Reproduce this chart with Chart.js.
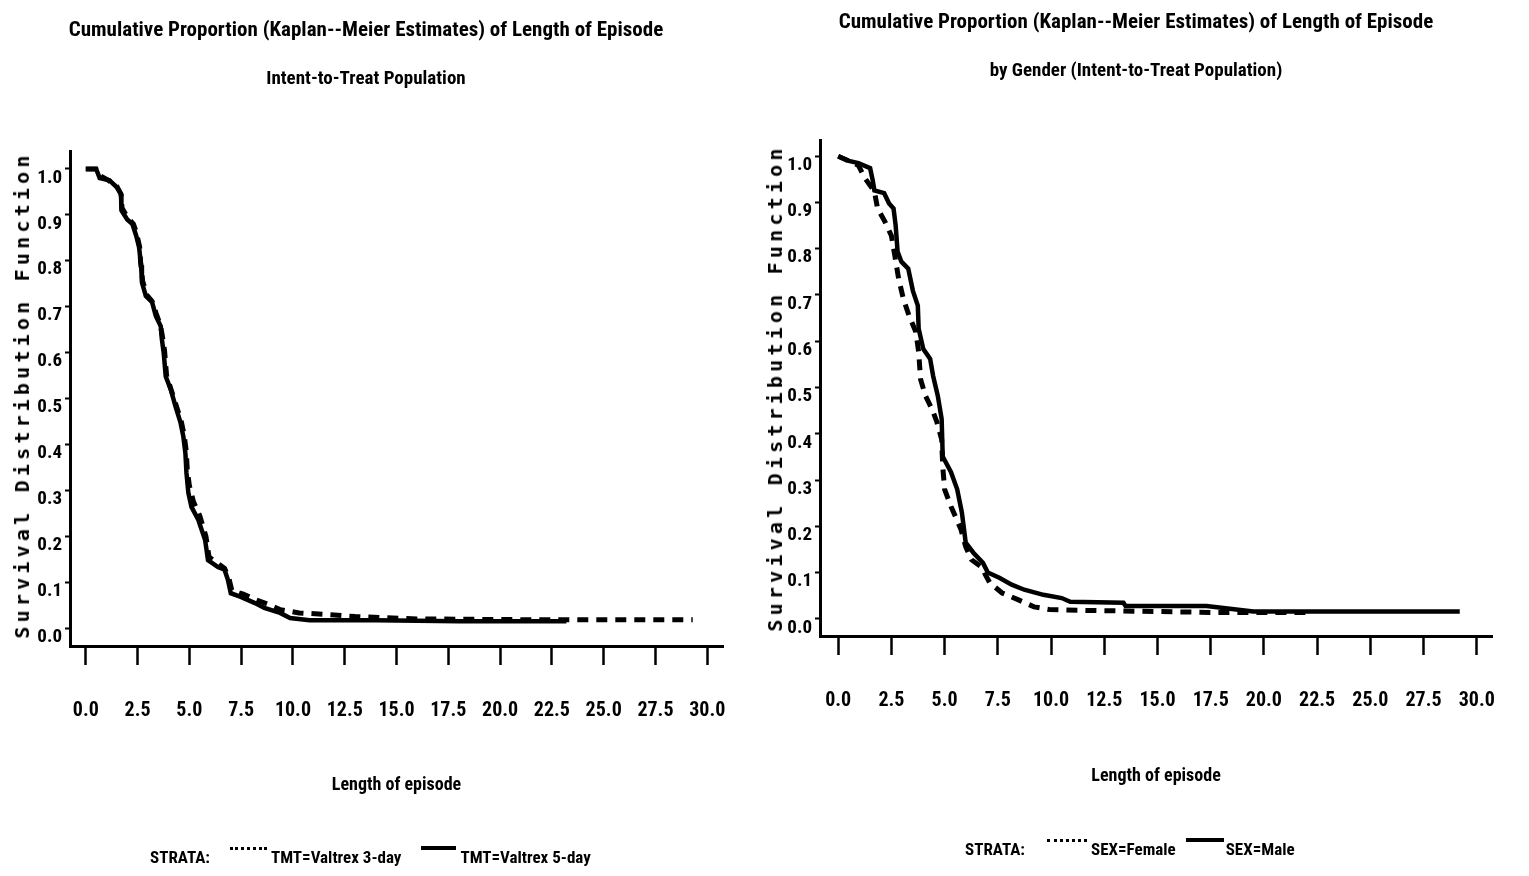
<!DOCTYPE html>
<html>
<head>
<meta charset="utf-8">
<script src="https://cdn.jsdelivr.net/npm/chart.js@4.4.1/dist/chart.umd.min.js"></script>
<style>
  body { margin: 0; background: #fff; }
  #wrap { position: relative; width: 1529px; height: 876px; overflow: hidden; }
  .panel { position: absolute; top: 0; height: 876px; }
  .ytitle {
    position: absolute; transform: translate(-50%, -50%) rotate(-90deg);
    font-family: 'DejaVu Sans Mono', monospace; font-weight: bold; font-size: 20px;
    letter-spacing: 4.2px; white-space: nowrap; color: #000;
  }
  .legend {
    position: absolute; display: flex; align-items: center; white-space: nowrap;
    font-family: 'Roboto Condensed', sans-serif;
    font-weight: bold; font-size: 17px; color: #000;
  }
  .dots { display: inline-block; height: 12px; border-top: 3px dotted #000; margin-top: -6px; }
  .line { display: inline-block; height: 12px; border-top: 4px solid #000; margin-top: -6px; }
</style>
</head>
<body>
<div id="wrap">
  <div class="panel" style="left:0;width:760px"><canvas id="left" width="760" height="876"></canvas></div>
  <div class="panel" style="left:750px;width:779px"><canvas id="right" width="779" height="876"></canvas></div>

  <div class="ytitle" style="left:22px;top:395px">Survival Distribution Function</div>
  <div class="ytitle" style="left:775px;top:388px">Survival Distribution Function</div>

  <div class="legend" style="left:150px;top:847px">
    <span>STRATA:</span>
    <span class="dots" style="margin-left:20px;width:37px"></span>
    <span style="margin-left:4px">TMT=Valtrex 3-day</span>
    <span class="line" style="margin-left:20px;width:35px"></span>
    <span style="margin-left:4px">TMT=Valtrex 5-day</span>
  </div>
  <div class="legend" style="left:965px;top:839px">
    <span>STRATA:</span>
    <span class="dots" style="margin-left:22px;width:40px"></span>
    <span style="margin-left:4px">SEX=Female</span>
    <span class="line" style="margin-left:10px;width:38px"></span>
    <span style="margin-left:2px">SEX=Male</span>
  </div>
</div>

<script>
// axis ticks
const xTicks = [0, 2.5, 5, 7.5, 10, 12.5, 15, 17.5, 20, 22.5, 25, 27.5, 30];
const yTicks = [0, 0.1, 0.2, 0.3, 0.4, 0.5, 0.6, 0.7, 0.8, 0.9, 1.0];

// left panel: treatment groups
const valtrex3Time = [0, 0.5, 0.7, 1.1, 1.5, 1.7, 1.75, 2.0, 2.3, 2.45, 2.6, 2.65, 2.75, 2.95, 3.2, 3.4, 3.6, 3.7, 3.8, 3.9, 4.1, 4.35, 4.6, 4.75, 4.85, 4.9, 5.0, 5.2, 5.5, 5.8, 5.95, 6.4, 6.7, 6.9, 7.05, 7.6, 8.2, 8.8, 9.4, 10.3, 11.5, 13.0, 16, 22, 29.3];
const valtrex3Surv = [1.0, 1.0, 0.985, 0.975, 0.962, 0.945, 0.915, 0.895, 0.88, 0.86, 0.83, 0.795, 0.755, 0.725, 0.712, 0.685, 0.66, 0.635, 0.605, 0.55, 0.522, 0.487, 0.452, 0.42, 0.385, 0.345, 0.31, 0.275, 0.245, 0.2, 0.155, 0.14, 0.13, 0.11, 0.082, 0.074, 0.062, 0.052, 0.04, 0.033, 0.03, 0.025, 0.02, 0.018, 0.018];
const valtrex5Time = [0, 0.5, 0.67, 1.14, 1.5, 1.7, 1.72, 2.0, 2.25, 2.43, 2.57, 2.67, 2.71, 2.9, 3.2, 3.38, 3.62, 3.67, 3.76, 3.86, 4.1, 4.33, 4.57, 4.71, 4.81, 4.86, 4.95, 5.1, 5.43, 5.76, 5.9, 6.38, 6.7, 6.86, 7.0, 7.48, 8.14, 8.62, 9.38, 9.86, 10.8, 14, 18, 23.2];
const valtrex5Surv = [1.0, 1.0, 0.98, 0.975, 0.96, 0.945, 0.91, 0.89, 0.88, 0.855, 0.83, 0.79, 0.753, 0.723, 0.71, 0.68, 0.657, 0.63, 0.60, 0.548, 0.52, 0.483, 0.448, 0.417, 0.38, 0.338, 0.295, 0.264, 0.236, 0.192, 0.148, 0.133, 0.127, 0.105, 0.076, 0.068, 0.055, 0.044, 0.033, 0.022, 0.017, 0.017, 0.015, 0.015];

// right panel: by gender
const femaleTime = [0, 0.95, 1.26, 1.7, 1.85, 2.2, 2.5, 2.66, 2.84, 3.06, 3.33, 3.65, 3.78, 3.87, 4.1, 4.41, 4.64, 4.86, 4.91, 5.0, 5.3, 5.77, 5.99, 6.26, 6.71, 7.12, 7.7, 8.47, 9.2, 9.95, 12, 15, 17.5, 22];
const femaleSurv = [1.0, 0.98, 0.952, 0.924, 0.887, 0.858, 0.828, 0.785, 0.735, 0.692, 0.655, 0.62, 0.577, 0.518, 0.482, 0.453, 0.425, 0.388, 0.33, 0.28, 0.243, 0.193, 0.156, 0.128, 0.113, 0.078, 0.056, 0.041, 0.026, 0.02, 0.018, 0.016, 0.014, 0.014];
const maleTime = [0, 0.5, 0.95, 1.5, 1.62, 1.7, 2.16, 2.39, 2.6, 2.7, 2.79, 2.97, 3.29, 3.51, 3.74, 3.78, 4.0, 4.32, 4.46, 4.68, 4.86, 4.91, 5.3, 5.59, 5.81, 5.99, 6.35, 6.8, 7.03, 7.57, 8.15, 8.74, 9.64, 10.5, 10.9, 13.4, 13.5, 17.3, 19.5, 29.2];
const maleSurv = [1.0, 0.99, 0.985, 0.974, 0.948, 0.926, 0.92, 0.898, 0.887, 0.85, 0.794, 0.772, 0.757, 0.709, 0.677, 0.627, 0.583, 0.562, 0.525, 0.482, 0.432, 0.351, 0.317, 0.28, 0.23, 0.165, 0.143, 0.121, 0.1, 0.089, 0.074, 0.063, 0.052, 0.045, 0.037, 0.035, 0.028, 0.028, 0.016, 0.016];

const NARROW = "'Roboto Condensed', sans-serif";

const toPoints = (t, s) => t.map((x, i) => ({ x: x, y: s[i] }));

const solidLine = (label, t, s) => ({
    label: label,
    data: toPoints(t, s),
    borderColor: '#000',
    borderWidth: 4.5,
    pointRadius: 0,
    tension: 0,
    fill: false
});

const dashedLine = (label, t, s) => ({
    ...solidLine(label, t, s),
    borderWidth: 5,
    borderDash: [11, 8],
    borderCapStyle: 'butt'
});

/**
 * Builds the config for one panel. The geometry arguments keep the axes
 * where the scanned SAS output had them.
 */
const makeConfig = (opts) => ({
    type: 'line',
    data: { datasets: opts.datasets },
    options: {
        responsive: false,
        animation: false,
        layout: { padding: { left: 0, right: opts.padRight, top: 0, bottom: 0 } },
        plugins: {
            legend: { display: false },
            tooltip: { enabled: false },
            title: {
                display: true,
                text: opts.title,
                color: '#000',
                font: { family: NARROW, size: 21, weight: 'bold' },
                padding: { top: opts.titleTop, bottom: 0 }
            },
            subtitle: {
                display: true,
                text: opts.subtitle,
                color: '#000',
                font: { family: NARROW, size: 19, weight: 'bold' },
                padding: { top: 25, bottom: opts.subBottom }
            }
        },
        scales: {
            x: {
                type: 'linear',
                min: opts.xMin,
                max: opts.xMax,
                afterBuildTicks: (s) => { s.ticks = xTicks.map(v => ({ value: v })); },
                afterFit: (s) => { s.height = opts.xHeight; },
                grid: { drawOnChartArea: false, tickLength: 19, tickWidth: 2.5, tickColor: '#000' },
                border: { display: true, color: '#000', width: 3 },
                ticks: {
                    color: '#000',
                    padding: 34,
                    maxRotation: 0,
                    autoSkip: false,
                    font: { family: NARROW, size: 20, weight: 'bold' },
                    callback: (v) => Number(v).toFixed(1)
                },
                title: {
                    display: true,
                    text: 'Length of episode',
                    color: '#000',
                    font: { family: NARROW, size: 18, weight: 'bold' },
                    padding: { top: 0, bottom: opts.xTitleBottom }
                }
            },
            y: {
                type: 'linear',
                min: opts.yMin,
                max: opts.yMax,
                afterBuildTicks: (s) => { s.ticks = yTicks.map(v => ({ value: v })); },
                afterFit: (s) => { s.width = 70; },
                grid: { drawOnChartArea: false, tickLength: 5, tickWidth: 2, tickColor: '#000' },
                border: { display: true, color: '#000', width: 3 },
                ticks: {
                    color: '#000',
                    padding: 3,
                    labelOffset: 9,
                    font: { family: NARROW, size: 19, weight: 'bold' },
                    callback: (v) => Number(v).toFixed(1)
                }
            }
        }
    }
});

new Chart(document.getElementById('left'), makeConfig({
    title: 'Cumulative Proportion (Kaplan--Meier Estimates) of Length of Episode',
    subtitle: 'Intent-to-Treat Population',
    titleTop: 18,
    subBottom: 60,
    padRight: 28,
    xMin: -0.762, xMax: 30.762,
    yMin: -0.039, yMax: 1.039,
    xHeight: 230,
    xTitleBottom: 80,
    datasets: [
        solidLine('TMT=Valtrex 5-day', valtrex5Time, valtrex5Surv),
        dashedLine('TMT=Valtrex 3-day', valtrex3Time, valtrex3Surv)
    ]
}));

new Chart(document.getElementById('right'), makeConfig({
    title: 'Cumulative Proportion (Kaplan--Meier Estimates) of Length of Episode',
    subtitle: 'by Gender (Intent-to-Treat Population)',
    titleTop: 10,
    subBottom: 57,
    padRight: 7,
    xMin: -0.855, xMax: 30.72,
    yMin: -0.037, yMax: 1.035,
    xHeight: 240,
    xTitleBottom: 89,
    datasets: [
        solidLine('SEX=Male', maleTime, maleSurv),
        dashedLine('SEX=Female', femaleTime, femaleSurv)
    ]
}));
</script>
</body>
</html>
